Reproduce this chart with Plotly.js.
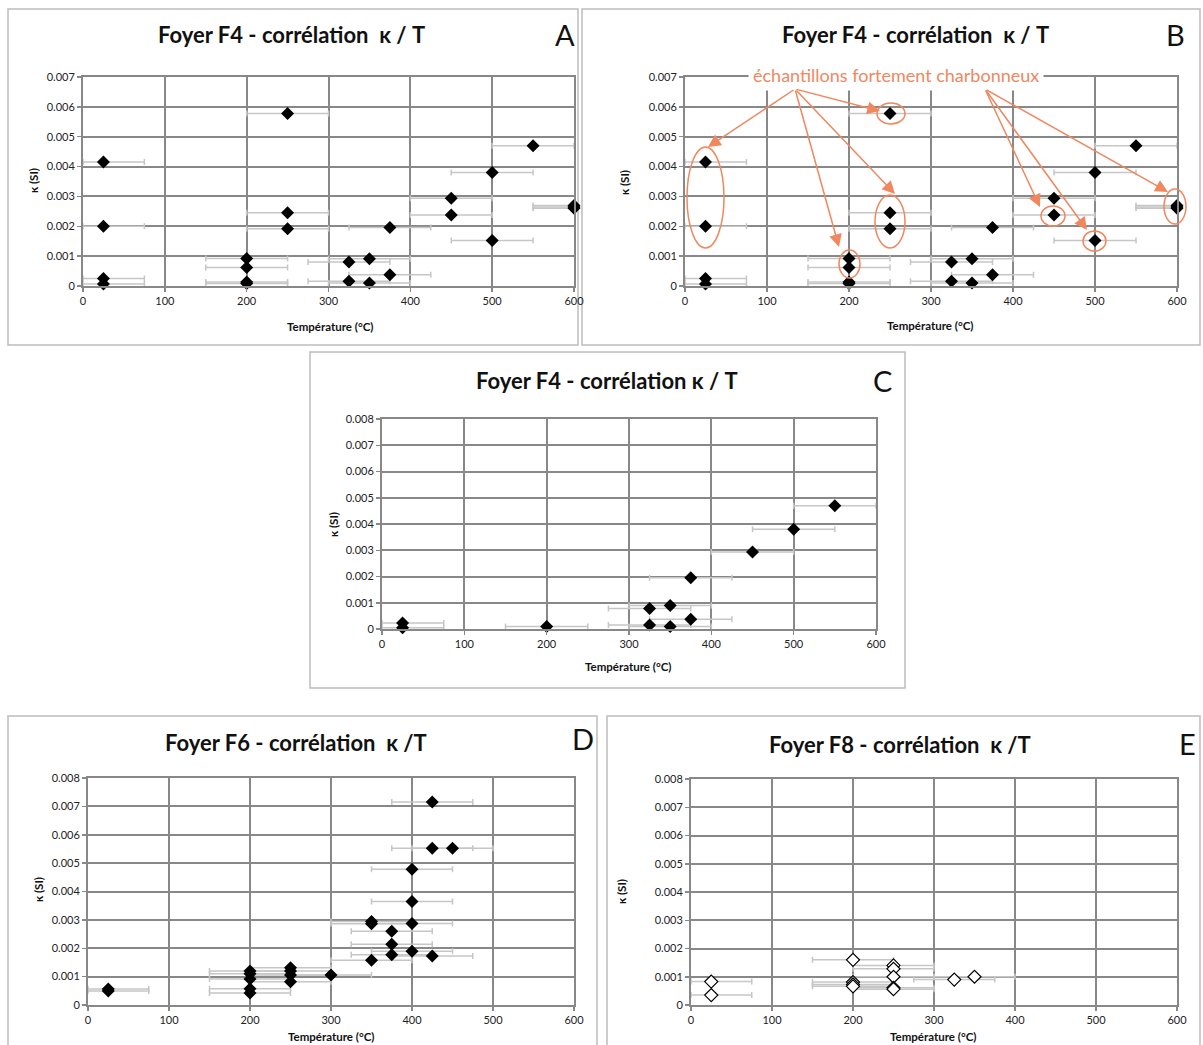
<!DOCTYPE html>
<html>
<head>
<meta charset="utf-8">
<script src="https://cdn.plot.ly/plotly-3.0.1.min.js"></script>
<style>
html,body{margin:0;padding:0;background:#fff;}
#chart{width:1203px;height:1045px;}
</style>
</head>
<body>
<div id="chart"></div>
<script>
// ---------------- DATA ----------------
// Foyer F4 : all samples (panels A and B)
const f4Temp = [25,25,25,25, 200,200,200,200, 250,250,250, 325,325, 350,350, 375,375, 450,450, 500,500, 550, 600,600,600];
const f4Kappa = [0.00415,0.0020,0.00025,0.00007, 0.00092,0.00062,0.00013,0.00008, 0.00578,0.00245,0.00192, 0.0008,0.00016, 0.00091,0.0001, 0.00196,0.00038, 0.00294,0.00238, 0.0038,0.00152, 0.0047, 0.0027,0.00265,0.0026];

// Foyer F4 : without strongly charcoal-rich samples (panel C)
const f4cTemp = [25,25, 200, 325,325, 350,350, 375,375, 450, 500, 550];
const f4cKappa = [0.00023,0.00005, 0.0001, 0.00078,0.00015, 0.0009,0.0001, 0.00195,0.00037, 0.00293, 0.0038, 0.0047];

// Foyer F6 (panel D)
const f6Temp = [25,25, 200,200,200,200,200, 250,250,250,250, 300, 350,350,350, 375,375,375, 400,400,400,400, 425,425,425, 450];
const f6Kappa = [0.00056,0.00049, 0.0012,0.0011,0.00092,0.00057,0.00042, 0.00131,0.0012,0.00106,0.00082, 0.00106, 0.00294,0.00286,0.00158, 0.0026,0.00214,0.00177, 0.00478,0.00365,0.00287,0.00189, 0.00715,0.00552,0.00173, 0.00552];

// Foyer F8 (panel E)
const f8Temp = [25,25, 200,200,200,200, 250,250,250,250,250, 325, 350];
const f8Kappa = [0.00083,0.00035, 0.0016,0.00081,0.00073,0.00066, 0.0014,0.00128,0.001,0.00061,0.00056, 0.0009, 0.001];

const tempUncertainty = 50;   // ± °C
const xTicks = [0,100,200,300,400,500,600];
const titles = ["Foyer F4 - corrélation  κ / T","Foyer F4 - corrélation  κ / T","Foyer F4 - corrélation κ / T","Foyer F6 - corrélation  κ /T","Foyer F8 - corrélation  κ /T"];
const letters = ["A","B","C","D","E"];
const xTitle = "Température (°C)";
const yTitle = "κ (SI)";
const noteText = "échantillons fortement charbonneux";

// ---------------- LAYOUT HELPERS ----------------
const W = 1203, H = 1045;
const px = x => x / W;
const py = y => 1 - y / H;
const xMax = 600;
const orange = "#f0875f";
const gridC = "#888888";
const FONT = "Lato, 'Open Sans', sans-serif";

function errs(t){
  return {
    type: "data", symmetric: false,
    array: t.map(v => Math.min(tempUncertainty, xMax - v)),
    arrayminus: t.map(v => Math.min(tempUncertainty, v)),
    color: "#c6c6c6", thickness: 1.5, width: 3
  };
}
function trace(t, k, ax, hollow){
  return {
    type: "scatter", mode: "markers", x: t, y: k,
    xaxis: "x" + ax, yaxis: "y" + ax, cliponaxis: false,
    marker: {symbol: "diamond", size: 10, color: hollow ? "#ffffff" : "#000000",
             line: {color: "#000", width: hollow ? 1.2 : 0}},
    error_x: errs(t), showlegend: false, hoverinfo: "x+y"
  };
}

const data = [
  trace(f4Temp, f4Kappa, "", false),
  trace(f4Temp, f4Kappa, "2", false),
  trace(f4cTemp, f4cKappa, "3", false),
  trace(f6Temp, f6Kappa, "4", false),
  trace(f8Temp, f8Kappa, "5", true)
];

// plot areas in pixels: [left, right, top, bottom]
const areas = [
  [83, 574, 77, 286],
  [685, 1177, 77, 286],
  [382, 876, 419, 629],
  [88, 574, 778, 1005],
  [691, 1177, 779, 1005]
];
const yMaxes = [0.007, 0.007, 0.008, 0.008, 0.008];

const tickFont = {family: FONT, size: 11, color: "#222"};
const layout = {
  width: W, height: H, margin: {l:0, r:0, t:0, b:0},
  paper_bgcolor: "#fff", plot_bgcolor: "#fff",
  showlegend: false, shapes: [], annotations: []
};

areas.forEach((a, i) => {
  const s = i === 0 ? "" : String(i + 1);
  layout["xaxis" + s] = {
    domain: [px(a[0]), px(a[1])], anchor: "y" + s, range: [0, xMax],
    tickvals: xTicks, showgrid: true, gridcolor: gridC, gridwidth: 2,
    showline: true, linecolor: gridC, linewidth: 2, mirror: true,
    zeroline: false, ticks: "outside", ticklen: 4, tickcolor: gridC, tickwidth: 1.5,
    tickfont: tickFont, fixedrange: true
  };
  layout["yaxis" + s] = {
    domain: [py(a[3]), py(a[2])], anchor: "x" + s, range: [0, yMaxes[i]],
    dtick: 0.001, tick0: 0, showgrid: true, gridcolor: gridC, gridwidth: 2,
    showline: true, linecolor: gridC, linewidth: 2, mirror: true,
    zeroline: false, ticks: "outside", ticklen: 4, tickcolor: gridC, tickwidth: 1.5,
    tickfont: tickFont, fixedrange: true
  };
});

// panel frames
const frames = [[8,9,578,345],[582,9,1200,345],[310,352,905,688],[8,716,597,1060],[607,716,1200,1060]];
frames.forEach(f => layout.shapes.push({type:"rect", xref:"paper", yref:"paper",
  x0: px(f[0]), x1: px(f[2]), y0: py(f[3]), y1: py(f[1]), line:{color:"#bdbdbd", width:1.5}, layer:"below"}));

// titles, letters and axis titles
const titlePos = [[291,35],[915,35],[607,380],[296,742],[900,745]];
const letterPos = [[565,35],[1175,35],[882,380],[583,738],[1187,743]];
const xtPos = [[330,327],[930,326],[628,666],[331,1036],[933,1036]];
const ytPos = [[33,181],[625,183],[333,525],[38,890],[621,892]];
for (let i = 0; i < 5; i++){
  layout.annotations.push({text: "<b>" + titles[i] + "</b>", xref:"paper", yref:"paper",
    x: px(titlePos[i][0]), y: py(titlePos[i][1]), xanchor:"center", yanchor:"middle",
    showarrow:false, font:{family: FONT, size: 22, color:"#111"}});
  layout.annotations.push({text: letters[i], xref:"paper", yref:"paper",
    x: px(letterPos[i][0]), y: py(letterPos[i][1]), xanchor:"center", yanchor:"middle",
    showarrow:false, font:{family: FONT, size: 29, color:"#111"}});
  layout.annotations.push({text: "<b>" + xTitle + "</b>", xref:"paper", yref:"paper",
    x: px(xtPos[i][0]), y: py(xtPos[i][1]), xanchor:"center", yanchor:"middle",
    showarrow:false, font:{family: FONT, size: 11.5, color:"#111"}});
  layout.annotations.push({text: "<b>" + yTitle + "</b>", xref:"paper", yref:"paper",
    x: px(ytPos[i][0]), y: py(ytPos[i][1]), xanchor:"center", yanchor:"middle", textangle: -90,
    showarrow:false, font:{family: FONT, size: 11.5, color:"#111"}});
}

// Panel B highlight note
layout.annotations.push({text: noteText, xref:"paper", yref:"paper", x: px(896), y: py(75),
  xanchor:"center", yanchor:"middle", showarrow:false, bgcolor:"#ffffff", borderpad: 4,
  font:{family: FONT, size: 18, color: orange}});

const arrowGroups = [
  {tail:[795,89], heads:[[708,147],[880,111],[839,247],[895,194]]},
  {tail:[985,89], heads:[[1040,207],[1087,230],[1168,192]]}
];
arrowGroups.forEach(g => g.heads.forEach(h => {
  layout.annotations.push({text:"", xref:"paper", yref:"paper", x: px(h[0]), y: py(h[1]),
    ax: g.tail[0] - h[0], ay: g.tail[1] - h[1], showarrow:true,
    arrowhead: 2, arrowsize: 1.7, arrowwidth: 1.5, arrowcolor: orange, standoff: 0});
}));

const ellipses = [[687,147,724,248],[877,103,905,124],[875,195,905,248],[839,250,860,278],[1041,206,1065,226],[1083,231,1106,251],[1164,189,1186,224]];
ellipses.forEach(e => layout.shapes.push({type:"circle", xref:"paper", yref:"paper",
  x0: px(e[0]), x1: px(e[2]), y0: py(e[3]), y1: py(e[1]), line:{color: orange, width: 1.5}, layer:"above"}));

Plotly.newPlot("chart", data, layout, {staticPlot: true, displayModeBar: false});
</script>
</body>
</html>
